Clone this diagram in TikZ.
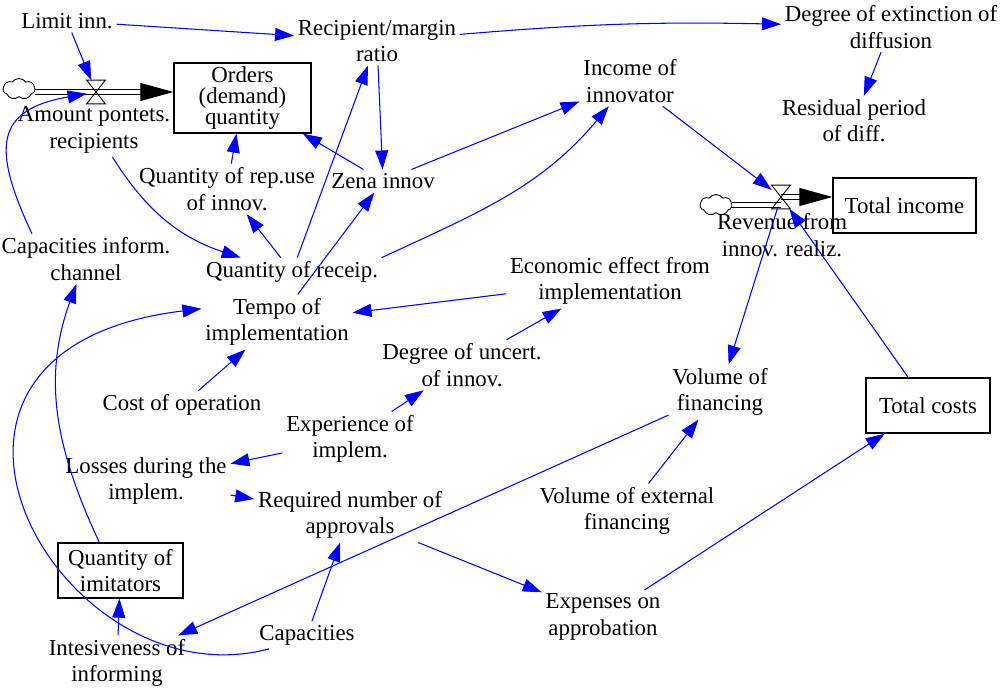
\documentclass[tikz,border=0pt]{standalone}
\usepackage{fontspec}
\setmainfont{Liberation Serif}
\usetikzlibrary{arrows.meta, positioning, shapes.symbols}

\begin{document}
\begin{tikzpicture}[x=0.02cm, y=-0.02cm,
		font=\fontsize{13}{15}\selectfont,
		var/.style={align=center, inner sep=2pt},
		stock/.style={draw, line width=0.8pt, align=center, minimum height=1.1cm, inner sep=2pt},
		link/.style={blue, line width=0.6pt, -{Triangle[length=3.8mm, width=2.6mm]}},
		pipe/.style={double, double distance=0.8mm, line width=0.6pt},
		pipetip/.style={-{Triangle[length=6.6mm, width=3.6mm]}},
		valve/.style={minimum width=0.36cm, minimum height=0.46cm, inner sep=0pt},
		puff/.style={cloud, draw, cloud puffs=7, cloud puff arc=110, cloud ignores aspect, minimum width=0.64cm, minimum height=0.42cm, inner sep=0pt, line width=0.5pt}]
		\useasboundingbox (0,0) rectangle (1001,688);
		%draw stocks
		\node[stock, minimum width=2.74cm, minimum height=1.28cm, font=\fontsize{13}{12}\selectfont] (orders) at (242.5,98) {Orders\\(demand)\\quantity};
		\node[stock, minimum width=2.86cm] (totinc) at (904.5,205.5) {Total income};
		\node[stock, minimum width=2.48cm] (totcost) at (928,405.5) {Total costs};
		\node[stock, minimum width=2.5cm] (imit) at (120.5,570.5) {Quantity of\\imitators};
		%draw flows
		\node[puff] (cl1) at (19,89) {};
		\node[valve] (v1) at (96,92) {};
		\node[puff] (cl2) at (716,205) {};
		\node[valve] (v2) at (781,197) {};
		\draw[pipe, pipetip] (cl1.east |- v1.center) -- (v1.center -| orders.west);
		\draw[pipe] (cl2.east) -- (cl2.east -| v2.center);
		\draw[pipe, pipetip] (v2.center) -- (v2.center -| totinc.west);
		\foreach \v in {v1, v2}{
			\draw[line width=0.5pt] (\v.north west) -- (\v.north east) -- (\v.south west) -- (\v.south east) -- cycle;
		}
		\node[var] (amount) at (94,130) {Amount pontets.\\recipients};
		\node[var] (revenue) at (782,235) {Revenue from\\innov. realiz.};
		%draw variables
		\node[var] (limit) at (67,21) {Limit inn.};
		\node[var] (ratio) at (377,41) {Recipient/margin\\ratio};
		\node[var] (ext) at (891,27) {Degree of extinction of\\diffusion};
		\node[var] (resid) at (854,121) {Residual period\\of diff.};
		\node[var] (income) at (630,81) {Income of\\innovator};
		\node[var] (repuse) at (227,189) {Quantity of rep.use\\of innov.};
		\node[var] (zena) at (383,181) {Zena innov};
		\node[var] (channel) at (86,259) {Capacities inform.\\channel};
		\node[var] (receip) at (292,272) {Quantity of receip.};
		\node[var] (econ) at (610,281) {Economic effect from\\implementation};
		\node[var] (tempo) at (277,322) {Tempo of\\implementation};
		\node[var] (uncert) at (462,365) {Degree of uncert.\\of innov.};
		\node[var] (volfin) at (720,392) {Volume of\\financing};
		\node[var] (costop) at (182,405) {Cost of operation};
		\node[var] (exper) at (350,439) {Experience of\\implem.};
		\node[var] (losses) at (146,481) {Losses during the\\implem.};
		\node[var] (req) at (350,515) {Required number of\\approvals};
		\node[var] (volext) at (627,511) {Volume of external\\financing};
		\node[var] (expens) at (603,617) {Expenses on\\approbation};
		\node[var] (cap) at (307,635) {Capacities};
		\node[var] (intens) at (117,663) {Intesiveness of\\informing};
		%draw links
		\draw[link] (limit) -- (ratio);
		\draw[link] (limit) -- (v1);
		\draw[link] (ratio) to[bend left=3] (ext);
		\draw[link] (ext) -- (resid);
		\draw[link] (ratio) -- (zena);
		\draw[link] (zena) -- (orders);
		\draw[link] (repuse) -- (orders);
		\draw[link] (zena) -- (income);
		\draw[link] (receip.north east) to[out=25, in=230] (income);
		\draw[link] (tempo) -- (zena);
		\draw[link] (receip) -- (ratio);
		\draw[link] (receip) -- (repuse);
		\draw[link] (amount) to[bend right=20] (receip);
		\draw[link] (channel.155) to[out=115, in=190, looseness=1.6] (v1);
		\draw[link] (imit.127) to[out=115, in=250] (channel.-111);
		\draw[link] (cap.200) .. controls (60,705) and (-140,350) .. (tempo.170);
		\draw[link] (econ) -- (tempo);
		\draw[link] (uncert) -- (econ);
		\draw[link] (costop) -- (tempo);
		\draw[link] (exper) -- (uncert);
		\draw[link] (exper) -- (losses);
		\draw[link] (losses) -- (req);
		\draw[link] (req) -- (expens);
		\draw[link] (cap) -- (req);
		\draw[link] (volfin) -- (intens);
		\draw[link] (volext) -- (volfin);
		\draw[link] (expens) -- (totcost);
		\draw[link] (intens) -- (imit);
		\draw[link] (v2) -- (volfin);
		\draw[link] (totcost) -- (v2);
		\draw[link] (income) -- (v2);
\end{tikzpicture}
\end{document}
